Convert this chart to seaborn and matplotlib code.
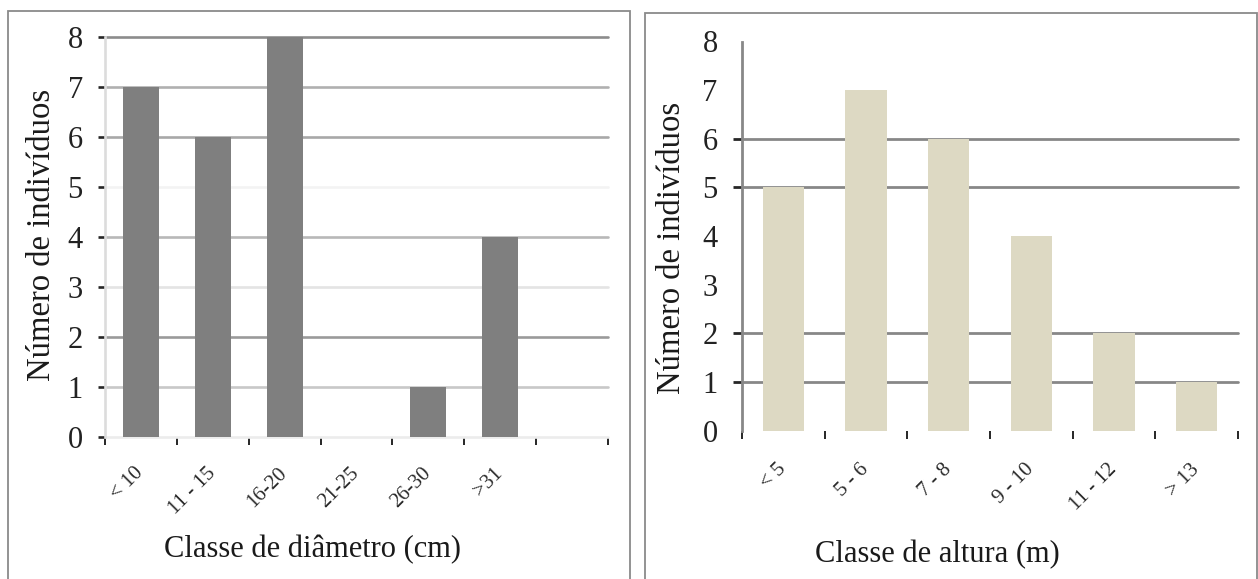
import matplotlib
matplotlib.use("Agg")
import matplotlib.pyplot as plt
from matplotlib.patches import Rectangle
import numpy as np
import pandas as pd
import seaborn as sns

# Diameter classes (cm) and number of individuals
diam_classes = ["< 10", "11 - 15", "16-20", "21-25", "26-30", ">31"]
diam_counts = [7, 6, 8, 0, 1, 4]

# Height classes (m) and number of individuals
alt_classes = ["< 5", "5 - 6", "7 - 8", "9 - 10", "11 - 12", "> 13"]
alt_counts = [5, 7, 6, 4, 2, 1]

y_ticks = list(range(0, 9))

sns.set_theme(style="white")
plt.rcParams["font.family"] = ["Liberation Serif", "DejaVu Serif"]

W, H = 1258, 579
fig = plt.figure(figsize=(W / 100, H / 100), dpi=100)
fig.patch.set_facecolor("white")


def px_rect(x0, x1, y_top, y_bot):
    return [x0 / W, (H - y_bot) / H, (x1 - x0) / W, (y_bot - y_top) / H]


ax1 = fig.add_axes(px_rect(105, 608, 37.3, 437))
ax2 = fig.add_axes(px_rect(742, 1238, 41.5, 430.7))

df_diam = pd.DataFrame({"classe": diam_classes, "n": diam_counts})
df_alt = pd.DataFrame({"classe": alt_classes, "n": alt_counts})

sns.barplot(data=df_diam, x="classe", y="n", color="#7f7f7f", saturation=1,
            width=0.5, errorbar=None, linewidth=0, ax=ax1, zorder=3)
sns.barplot(data=df_alt, x="classe", y="n", color="#ddd9c3", saturation=1,
            width=0.5, errorbar=None, linewidth=0, ax=ax2, zorder=3)


def style_axis(ax, n_slots, grid_colors, spine_color, boundary_colors,
               ytick_len, xpad, grid_lw):
    ax.set_xlim(-0.5, n_slots - 0.5)
    ax.set_ylim(0, 8)
    ax.set_yticks(y_ticks)
    ax.set_facecolor("white")
    ax.set_axisbelow(True)
    for side in ("top", "right", "bottom"):
        ax.spines[side].set_visible(False)
    ax.spines["left"].set_color(spine_color)
    ax.spines["left"].set_linewidth(grid_lw)
    ax.spines["left"].set_zorder(4)

    # horizontal gridlines, each level with its own shade
    ax.yaxis.grid(True, linewidth=grid_lw)
    ax.tick_params(axis="y", which="major", direction="out", length=ytick_len,
                   width=grid_lw, pad=11, labelsize=22, labelcolor="#222222",
                   left=True)
    for tick, c in zip(ax.yaxis.get_major_ticks(), grid_colors):
        if c is None:
            tick.gridline.set_visible(False)
            tick.tick1line.set_visible(False)
        else:
            tick.gridline.set_color(c)
            tick.gridline.set_clip_on(False)
            tick.tick1line.set_color(c)

    # category labels at the centres, tick marks at the slot boundaries
    ax.set_xticks(np.arange(-0.5, n_slots, 1.0), minor=True)
    ax.tick_params(axis="x", which="major", length=0, pad=xpad,
                   labelsize=15, labelcolor="#2a2a2a", bottom=True)
    ax.tick_params(axis="x", which="minor", direction="out", length=5.5,
                   width=1.4, bottom=True)
    for tick, c in zip(ax.xaxis.get_minor_ticks(), boundary_colors):
        tick.tick1line.set_color(c)
    for lab in ax.get_xticklabels():
        lab.set_rotation(45)
        lab.set_ha("right")
        lab.set_va("center")
        lab.set_rotation_mode("anchor")


left_grid = ["#ececec", "#c8c8c8", "#9a9a9a", "#e4e4e4", "#b8b8b8",
             "#f3f3f3", "#a8a8a8", "#b0b0b0", "#8c8c8c"]
right_grid = [None, "#878787", "#878787", None, None,
              "#878787", "#878787", None, None]

style_axis(ax1, 7, left_grid, "#dcdcdc",
           ["#dcdcdc", "#9a9a9a", "#c0c0c0", "#a8a8a8", "#d8d8d8", "#b8b8b8",
            "#c8c8c8", "#b8b8b8"],
           ytick_len=5, xpad=24, grid_lw=1.9)
style_axis(ax2, 6, right_grid, "#888888",
           ["#888888", "#c8c8c8", "#9a9a9a", "#d4d4d4", "#c8c8c8", "#e0e0e0",
            "#9a9a9a"],
           ytick_len=6.5, xpad=26, grid_lw=2.0)

ylabel_kw = dict(fontsize=23.5, color="#1a1a1a")
xlabel_kw = dict(fontsize=22, color="#1a1a1a")
ax1.set_ylabel("Número de indivíduos", **ylabel_kw)
ax1.yaxis.label.set_va("center")
ax1.yaxis.set_label_coords((42 - 105) / 503, (437 - 235) / 399.7)
ax2.set_ylabel("Número de indivíduos", **ylabel_kw)
ax2.yaxis.label.set_va("center")
ax2.yaxis.set_label_coords((672 - 742) / 496, (430.7 - 248) / 389.2)

ax1.set_xlabel("Classe de diâmetro (cm)", **xlabel_kw)
ax1.xaxis.label.set_va("center")
ax1.xaxis.set_label_coords((312 - 105) / 503, (437 - 550) / 399.7)
ax2.set_xlabel("Classe de altura (m)", **xlabel_kw)
ax2.xaxis.label.set_va("center")
ax2.xaxis.set_label_coords((937 - 742) / 496, (430.7 - 555) / 389.2)

# panel frames around each chart
for x0, x1, y_top in ((8, 630, 11), (645, 1257, 13)):
    fig.add_artist(Rectangle((x0 / W, -0.05), (x1 - x0) / W,
                             (H - y_top) / H + 0.05,
                             transform=fig.transFigure, fill=False,
                             edgecolor="#8a8a8a", linewidth=1.3))

fig.savefig("out.png", dpi=100, facecolor="white")
